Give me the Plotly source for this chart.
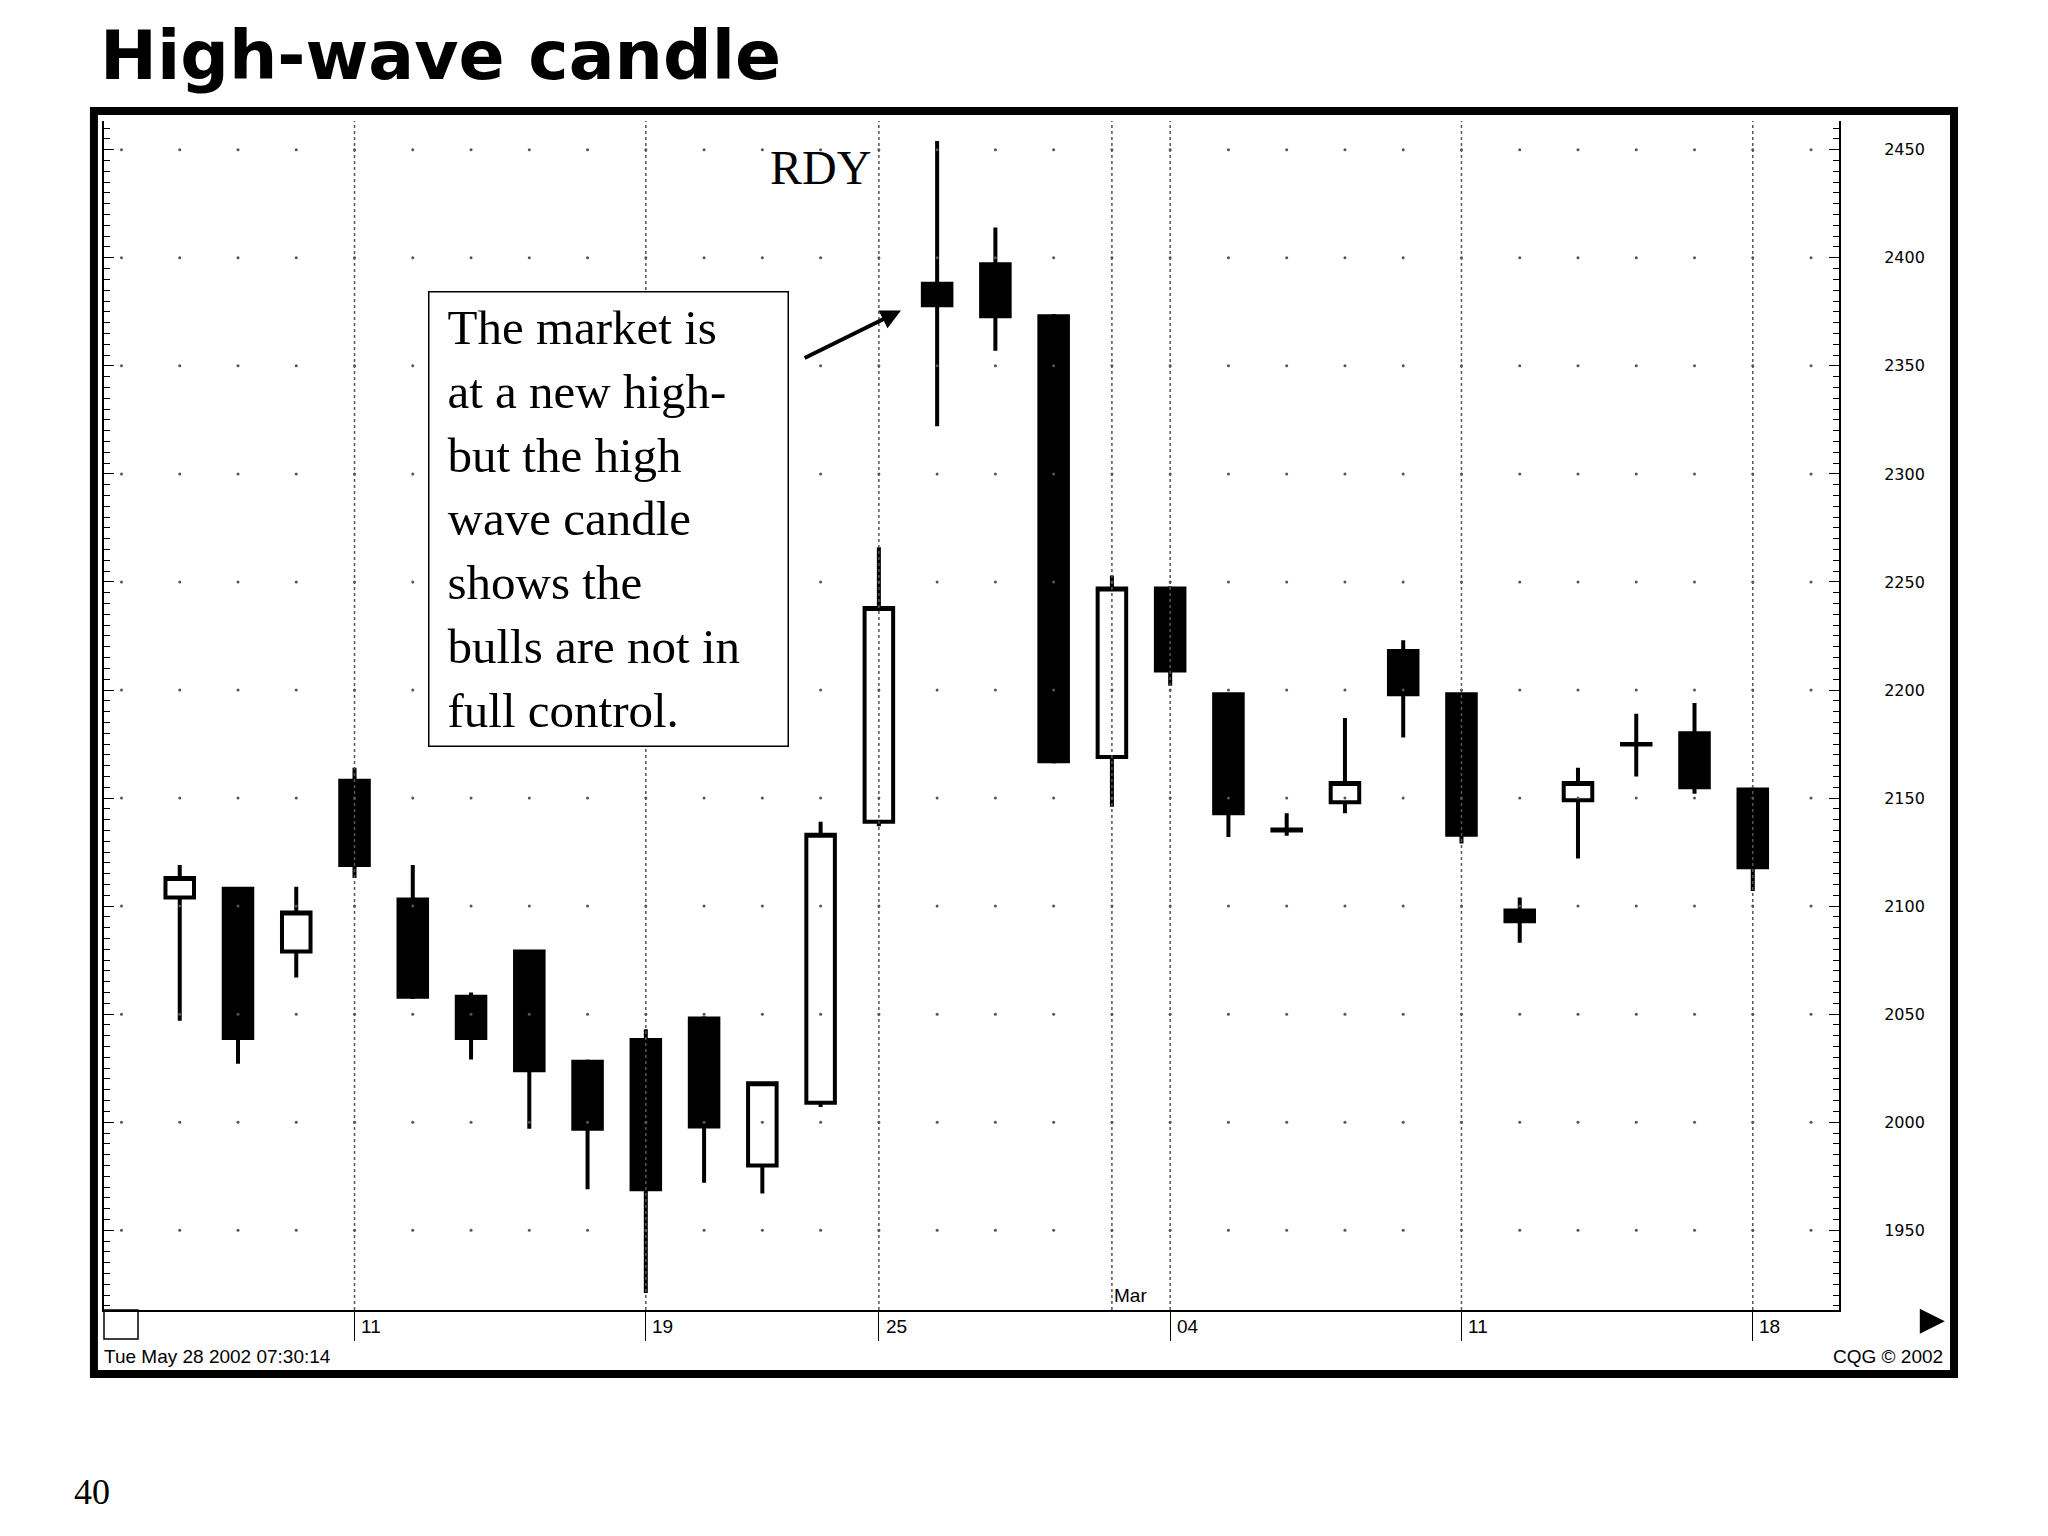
import plotly.graph_objects as go

# trading days Feb 6 .. Mar 18 2002 (index positions on x)
day_labels = ["06", "07", "08", "11", "12", "13", "14", "15", "19", "20", "21", "22",
              "25", "26", "27", "28", "01", "04", "05", "06", "07", "08",
              "11", "12", "13", "14", "15", "18"]
opens = [2104, 2108, 2079, 2158, 2103, 2058, 2079, 2028, 2038, 2048, 1980, 2009,
         2139, 2388, 2397, 2373, 2169, 2247, 2198, 2135.5, 2148, 2218,
         2198, 2098, 2149, 2175, 2180, 2154]
highs = [2119, 2109, 2109, 2164, 2119, 2060, 2079, 2029, 2043, 2049, 2019, 2139,
         2266, 2454, 2414, 2374, 2253, 2248, 2198, 2143, 2187, 2223,
         2198, 2104, 2164, 2189, 2194, 2155]
lows = [2047, 2027, 2067, 2113, 2057, 2029, 1997, 1969, 1921, 1972, 1967, 2007,
        2137, 2322, 2357, 2166, 2146, 2202, 2132, 2132.5, 2143, 2178,
        2129, 2083, 2122, 2160, 2152, 2107]
closes = [2113, 2039, 2097, 2119, 2058, 2039, 2024, 1997, 1969, 1998, 2018, 2133,
          2238, 2378, 2373, 2167, 2247, 2209, 2143, 2135, 2157, 2198,
          2133, 2093, 2157, 2174.8, 2155, 2118]

axis_ticks = [3, 8, 12, 17, 22, 27]        # labelled dates on bottom axis
vgrid = [3, 8, 12, 16, 17, 22, 27]         # dotted vertical lines
price_levels = [1950, 2000, 2050, 2100, 2150, 2200, 2250, 2300, 2350, 2400, 2450]

x = list(range(len(day_labels)))
fig = go.Figure()

# dotted horizontal grid (dots at each day position)
dot_x, dot_y = [], []
for lv in price_levels:
    for i in range(-1, 29):
        dot_x.append(i)
        dot_y.append(lv)
fig.add_trace(go.Scatter(x=dot_x, y=dot_y, mode="markers", hoverinfo="skip",
                         marker=dict(size=3, color="#555"), showlegend=False))

fig.add_trace(go.Candlestick(
    x=x, open=opens, high=highs, low=lows, close=closes,
    increasing=dict(fillcolor="white", line=dict(color="black", width=4)),
    decreasing=dict(fillcolor="black", line=dict(color="black", width=4)),
    whiskerwidth=0, showlegend=False))
fig.add_trace(go.Scatter(x=[0], y=[2000], yaxis="y2", mode="markers",
                         marker=dict(opacity=0), showlegend=False, hoverinfo="skip"))

yr = [1913.1, 2463.3]
fig.update_layout(
    width=2048, height=1536,
    margin=dict(l=96, r=217, t=113, b=234),
    paper_bgcolor="white", plot_bgcolor="white",
    showlegend=False,
    xaxis=dict(range=[-1.3, 28.48], rangeslider=dict(visible=False),
               tickvals=axis_ticks, ticktext=[""] * len(axis_ticks),
               ticks="outside", ticklen=29, tickcolor="black", tickwidth=1,
               showgrid=False, zeroline=False,
               showline=True, linecolor="black", linewidth=2),
    yaxis=dict(range=yr, side="right", tickvals=price_levels,
               ticks="inside", ticklen=10, tickcolor="black",
               minor=dict(dtick=5, ticks="inside", ticklen=6, tickcolor="black"),
               showgrid=False, zeroline=False,
               showline=True, linecolor="black", linewidth=2,
               ticklabelstandoff=40,
               tickfont=dict(family="DejaVu Sans", size=16, color="black")),
    yaxis2=dict(range=yr, overlaying="y", side="left", tickvals=price_levels,
                showticklabels=False, ticks="inside", ticklen=10, tickcolor="black",
                minor=dict(dtick=5, ticks="inside", ticklen=6, tickcolor="black"),
                showgrid=False, zeroline=False,
                showline=True, linecolor="black", linewidth=2),
)

for v in vgrid:
    fig.add_shape(type="line", xref="x", yref="paper", x0=v, x1=v, y0=0, y1=1,
                  line=dict(color="#555", width=1.5, dash="dot"))

# outer thick frame and small box
fig.add_shape(type="rect", xref="paper", yref="paper", x0=-0.0058, x1=1.0663,
              y0=-0.0538, y1=1.0084, line=dict(color="black", width=8))
fig.add_shape(type="rect", xref="paper", yref="paper", x0=0, x1=0.0196,
              y0=-0.0244, y1=0, line=dict(color="black", width=1.5))

axis_font = dict(family="Liberation Sans Narrow, Liberation Sans", size=19, color="black")
for t in axis_ticks:
    fig.add_annotation(x=t + 0.08, y=-0.003, xref="x", yref="paper", text=day_labels[t],
                       showarrow=False, xanchor="left", yanchor="top", font=axis_font)
fig.add_annotation(x=16, y=0.002, xref="x", yref="paper", text="Mar", showarrow=False,
                   xanchor="left", yanchor="bottom", font=axis_font)
fig.add_annotation(x=-0.001, y=-0.029, xref="paper", yref="paper",
                   text="Tue May 28 2002 07:30:14", showarrow=False,
                   xanchor="left", yanchor="top", font=axis_font)
fig.add_annotation(x=1.061, y=-0.029, xref="paper", yref="paper", text="CQG © 2002",
                   showarrow=False, xanchor="right", yanchor="top", font=axis_font)
fig.add_annotation(x=1.061, y=-0.0095, xref="paper", yref="paper", ax=-22, ay=0,
                   text="", showarrow=True, arrowhead=2, arrowsize=1, arrowwidth=5,
                   arrowcolor="black")

# title, symbol, note
fig.add_annotation(x=(98 - 104) / 1735, y=(1310 - 55) / 1189, xref="paper", yref="paper",
                   text="<b>High-wave candle</b>", showarrow=False,
                   xanchor="left", yanchor="middle",
                   font=dict(family="DejaVu Sans", size=68, color="black"))
fig.add_annotation(x=11, y=2442, xref="x", yref="y", text="RDY", showarrow=False,
                   xanchor="center", yanchor="middle",
                   font=dict(family="Liberation Serif", size=48, color="black"))
fig.add_annotation(x=(428 - 104) / 1735, y=(1310 - 291) / 1189, xref="paper", yref="paper",
                   text="The market is<br>at a new high-<br>but the high<br>wave candle<br>"
                        "shows the<br>bulls are not in<br>full control.",
                   showarrow=False, xanchor="left", yanchor="top", align="left",
                   bordercolor="black", borderwidth=1.5, borderpad=18, bgcolor="white",
                   width=322, height=417,
                   font=dict(family="Liberation Serif", size=49, color="black"))
fig.add_annotation(x=12.38, y=2375.6, ax=10.7, ay=2353.3, xref="x", yref="y",
                   axref="x", ayref="y", text="", showarrow=True, arrowhead=2,
                   arrowsize=1, arrowwidth=4, arrowcolor="black")
fig.add_annotation(x=(72 - 104) / 1735, y=(1310 - 1492) / 1189, xref="paper", yref="paper",
                   text="40", showarrow=False, xanchor="left", yanchor="middle",
                   font=dict(family="Liberation Serif", size=36, color="black"))

fig.write_html("out.html")
